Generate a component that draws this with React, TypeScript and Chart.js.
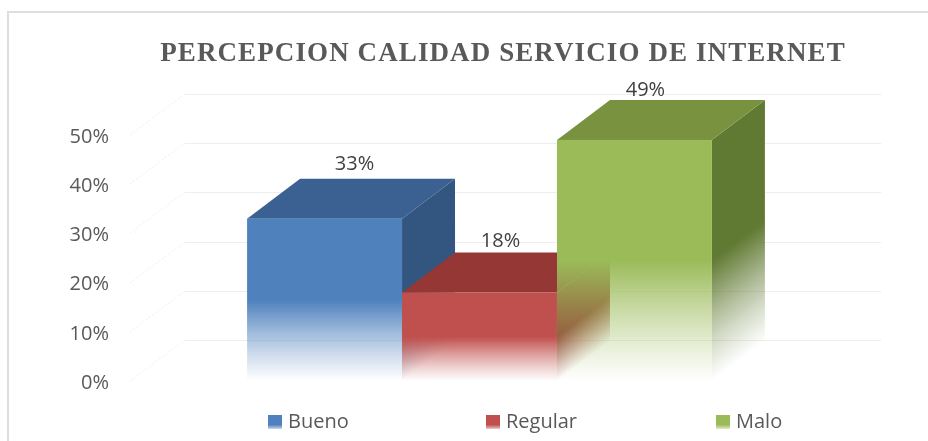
import { useEffect, useRef } from "react";
import { Chart, registerables } from "chart.js";

Chart.register(...registerables);

const titleText = "PERCEPCION CALIDAD SERVICIO DE INTERNET";
const categories = ["Percepción"];
const seriesNames = ["Bueno", "Regular", "Malo"];
const bueno = [33];
const regular = [18];
const malo = [49];
const frontColors = ["79,129,189", "192,80,77", "155,187,89"];
const topColors = ["#3b6092", "#953735", "#78923f"];
const sideColors = ["51,86,128", "148,54,52", "97,122,51"];
const labelShift = [30, 21, 11];
const labelLift = [14, 11, 10];
const legendMarkerX = [268, 486, 716];
const DX = 53;
const DY = 40;
const WALL_DX = 55;
const WALL_DY = 41;
const GRID_END = 881;
const GRID_COLOR = "#eeeeee";

const fadeStops: [number, number][] = [
  [0, 1],
  [0.5, 1],
  [0.7, 0.55],
  [0.85, 0.25],
  [1, 0],
];

function addStops(g: CanvasGradient, rgb: string) {
  fadeStops.forEach(([p, a]) => g.addColorStop(p, `rgba(${rgb},${a})`));
}

const box3d = {
  id: "box3d",
  afterLayout(chart: any) {
    const block = chart.titleBlock;
    if (block && !block.__patched) {
      block.__patched = true;
      const original = block.draw;
      block.draw = function () {
        const c = chart.ctx;
        c.save();
        c.letterSpacing = "1.1px";
        original.call(block);
        c.restore();
      };
    }
    block.left = 78;
    block.right = chart.width;
  },
  beforeDatasetsDraw(chart: any) {
    const { ctx } = chart;
    const y = chart.scales.y;
    const left = chart.chartArea.left;
    ctx.save();
    ctx.lineWidth = 1;
    ctx.strokeStyle = GRID_COLOR;
    y.ticks.forEach((t: any) => {
      const py = Math.round(y.getPixelForValue(t.value));
      ctx.setLineDash([2, 2]);
      ctx.beginPath();
      ctx.moveTo(left, py);
      ctx.lineTo(left + WALL_DX, py - WALL_DY);
      ctx.stroke();
      ctx.setLineDash([]);
      ctx.beginPath();
      ctx.moveTo(left + WALL_DX, py - WALL_DY + 0.5);
      ctx.lineTo(GRID_END, py - WALL_DY + 0.5);
      ctx.stroke();
    });
    ctx.restore();
  },
  beforeDatasetDraw() {
    return false;
  },
  afterDatasetsDraw(chart: any) {
    const { ctx } = chart;
    chart.data.datasets.forEach((ds: any, i: number) => {
      const el = chart.getDatasetMeta(i).data[0];
      const x0 = el.x - el.width / 2;
      const x1 = el.x + el.width / 2;
      const yt = el.y;
      const yb = el.base;
      const n = Math.hypot(DX, DY);
      const nx = DY / n;
      const ny = DX / n;
      const proj = (yb - yt) * ny;
      const side = ctx.createLinearGradient(x1, yt, x1 + nx * proj, yt + ny * proj);
      addStops(side, sideColors[i]);
      ctx.fillStyle = side;
      ctx.beginPath();
      ctx.moveTo(x1, yt);
      ctx.lineTo(x1 + DX, yt - DY);
      ctx.lineTo(x1 + DX, yb - DY);
      ctx.lineTo(x1, yb);
      ctx.closePath();
      ctx.fill();
      ctx.fillStyle = topColors[i];
      ctx.beginPath();
      ctx.moveTo(x0, yt);
      ctx.lineTo(x0 + DX, yt - DY);
      ctx.lineTo(x1 + DX, yt - DY);
      ctx.lineTo(x1, yt);
      ctx.closePath();
      ctx.fill();
      const front = ctx.createLinearGradient(0, yt, 0, yb);
      addStops(front, frontColors[i]);
      ctx.fillStyle = front;
      ctx.fillRect(x0, yt, x1 - x0, yb - yt);
    });
    ctx.save();
    ctx.font = '20px "Open Sans"';
    ctx.fillStyle = "#404040";
    ctx.textAlign = "center";
    ctx.textBaseline = "middle";
    chart.data.datasets.forEach((ds: any, i: number) => {
      const el = chart.getDatasetMeta(i).data[0];
      ctx.fillText(`${ds.data[0]}%`, el.x + labelShift[i], el.y - DY - labelLift[i]);
    });
    ctx.restore();
    ctx.save();
    ctx.font = '20px "Open Sans"';
    ctx.textAlign = "left";
    ctx.textBaseline = "middle";
    const ly = 422;
    chart.data.datasets.forEach((ds: any, i: number) => {
      const mx = legendMarkerX[i];
      const g = ctx.createLinearGradient(0, ly - 7, 0, ly + 7);
      g.addColorStop(0, `rgb(${frontColors[i]})`);
      g.addColorStop(0.7, `rgb(${frontColors[i]})`);
      g.addColorStop(1, `rgba(${frontColors[i]},0.3)`);
      ctx.fillStyle = g;
      ctx.fillRect(mx, ly - 7, 14, 14);
      ctx.fillStyle = "#595959";
      ctx.fillText(ds.label, mx + 20, ly);
    });
    ctx.restore();
  },
};

export default function App() {
  const ref = useRef<HTMLCanvasElement>(null);
  useEffect(() => {
    document.body.style.margin = "0";
    const chart = new Chart(ref.current as HTMLCanvasElement, {
      type: "bar",
      data: {
        labels: categories,
        datasets: [
          { label: seriesNames[0], data: bueno, backgroundColor: `rgb(${frontColors[0]})` },
          { label: seriesNames[1], data: regular, backgroundColor: `rgb(${frontColors[1]})` },
          { label: seriesNames[2], data: malo, backgroundColor: `rgb(${frontColors[2]})` },
        ],
      },
      options: {
        responsive: false,
        animation: false,
        layout: { padding: { left: 0, right: 0, top: 0, bottom: 60 } },
        datasets: { bar: { barPercentage: 1, categoryPercentage: 0.665 } },
        plugins: {
          legend: { display: false },
          tooltip: { enabled: false },
          title: {
            display: true,
            text: titleText,
            color: "#595959",
            font: { family: '"Liberation Serif"', size: 27, weight: "bold" },
            padding: { top: 38, bottom: 64.6 },
          },
        },
        scales: {
          x: { display: false },
          y: {
            min: 0,
            max: 50,
            afterFit: (s: any) => { s.width = 130; },
            grid: { display: false },
            border: { display: false },
            ticks: {
              stepSize: 10,
              padding: 13,
              labelOffset: 2,
              color: "#595959",
              font: { family: '"Open Sans"', size: 20 },
              callback: (v: any) => `${v}%`,
            },
          },
          y1: {
            position: "right",
            afterFit: (s: any) => { s.width = 99; },
            grid: { display: false },
            border: { display: false },
            ticks: { display: false },
          },
        },
      } as any,
      plugins: [box3d],
    });
    return () => chart.destroy();
  }, []);
  return (
    <div style={{ position: "absolute", left: 0, top: 0, width: 928, height: 441, overflow: "hidden", background: "#fff" }}>
      <canvas ref={ref} width={928} height={441} style={{ display: "block" }} />
      <div style={{ position: "absolute", left: 7, top: 11, right: 0, bottom: 0, borderTop: "2px solid #dedede", borderLeft: "2px solid #dedede", pointerEvents: "none" }} />
    </div>
  );
}
